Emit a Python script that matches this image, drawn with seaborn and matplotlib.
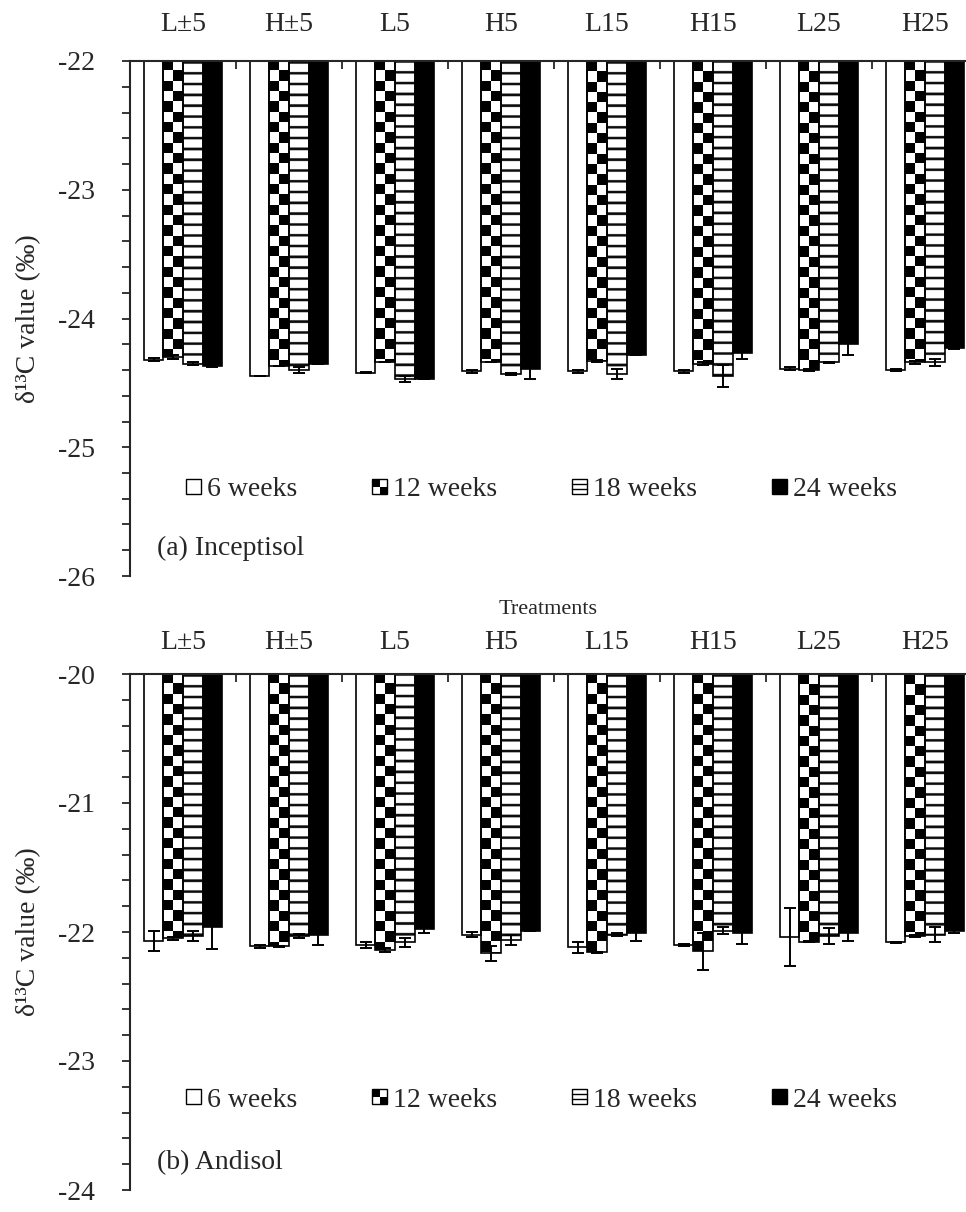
import numpy as np
import pandas as pd
import matplotlib
matplotlib.use("Agg")
import matplotlib.pyplot as plt
import seaborn as sns
from matplotlib.patches import Rectangle
from matplotlib.lines import Line2D
from matplotlib.container import BarContainer
from matplotlib.ticker import MultipleLocator, FixedLocator

# ---------------------------------------------------------------- data
treatments = ["L±5", "H±5", "L5", "H5", "L15", "H15", "L25", "H25"]
periods = ["6 weeks", "12 weeks", "18 weeks", "24 weeks"]

# Inceptisol: mean δ13C (‰) and standard error per sampling time
incep_6 = [-24.32, -24.45, -24.42, -24.41, -24.41, -24.41, -24.39, -24.40]
incep_12 = [-24.30, -24.37, -24.34, -24.34, -24.33, -24.35, -24.40, -24.34]
incep_18 = [-24.35, -24.40, -24.47, -24.43, -24.43, -24.45, -24.34, -24.34]
incep_24 = [-24.37, -24.35, -24.47, -24.39, -24.28, -24.27, -24.20, -24.23]
incep_6_se = [0.010, 0.000, 0.005, 0.010, 0.010, 0.010, 0.010, 0.010]
incep_12_se = [0.015, 0.000, 0.000, 0.000, 0.010, 0.010, 0.010, 0.010]
incep_18_se = [0.015, 0.025, 0.020, 0.010, 0.040, 0.085, 0.005, 0.026]
incep_24_se = [0.010, 0.000, 0.000, 0.080, 0.000, 0.045, 0.083, 0.005]

# Andisol: mean δ13C (‰) and standard error per sampling time
andi_6 = [-22.07, -22.11, -22.10, -22.02, -22.12, -22.10, -22.04, -22.08]
andi_12 = [-22.05, -22.11, -22.14, -22.165, -22.157, -22.15, -22.075, -22.03]
andi_18 = [-22.03, -22.03, -22.08, -22.06, -22.02, -21.99, -22.03, -22.02]
andi_24 = [-21.965, -22.02, -21.98, -21.99, -22.005, -22.005, -22.01, -21.99]
andi_6_se = [0.080, 0.013, 0.023, 0.020, 0.044, 0.005, 0.225, 0.003]
andi_12_se = [0.015, 0.005, 0.015, 0.060, 0.005, 0.146, 0.005, 0.010]
andi_18_se = [0.040, 0.013, 0.035, 0.037, 0.010, 0.026, 0.060, 0.060]
andi_24_se = [0.166, 0.080, 0.030, 0.005, 0.062, 0.087, 0.060, 0.020]

incep_limits = (-26, -22)
andi_limits = (-24, -20)

# ---------------------------------------------------------------- style
sns.set_style("white")
plt.rcParams.update({
    "font.family": ["Liberation Serif", "DejaVu Serif"],
    "font.size": 20,
    "axes.unicode_minus": False,
    "axes.linewidth": 1.5,
})

bar_colors = ["white", "white", "white", "black"]
CELL_PX = 10.3      # checker cell height in pixels
STRIPE_PX = 10.8    # stripe period in pixels
STRIPE_LINE = 2.6   # stripe line thickness in pixels


def long_table(means, ses):
    rows = []
    for period, vals, errs in zip(periods, means, ses):
        for t, v, e in zip(treatments, vals, errs):
            rows.append({"treatment": t, "period": period, "value": v, "se": e})
    return pd.DataFrame(rows)


def texture_bars(ax, bar_groups):
    ybot, ytop = ax.get_ylim()
    ppu = ax.bbox.height / (ytop - ybot)
    # checkerboard fill for the second sampling time
    cell = CELL_PX / ppu
    for bar in bar_groups[1]:
        x0, w = bar.get_x(), bar.get_width()
        val = bar.get_y() + bar.get_height()
        n = int(np.ceil((ytop - val) / cell)) + 1
        arr = np.add.outer(np.arange(n), np.arange(2)) % 2
        im = ax.imshow(arr, cmap="gray", vmin=0, vmax=1, origin="upper",
                       extent=(x0, x0 + w, ytop - n * cell, ytop),
                       aspect="auto", interpolation="nearest", zorder=0.9)
        im.set_clip_path(bar)
        bar.set_facecolor("none")
        bar.set_zorder(1.5)
    # horizontal stripes for the third sampling time
    sub = 4
    for bar in bar_groups[2]:
        x0, w = bar.get_x(), bar.get_width()
        val = bar.get_y() + bar.get_height()
        n = int(np.ceil((ytop - val) * ppu * sub)) + sub
        rows = (np.arange(n) / sub) % STRIPE_PX
        arr = np.where(rows < STRIPE_LINE, 0.05, 1.0)[:, None]
        im = ax.imshow(arr, cmap="gray", vmin=0, vmax=1, origin="upper",
                       extent=(x0, x0 + w, ytop - n / sub / ppu, ytop),
                       aspect="auto", interpolation="antialiased", zorder=0.9)
        im.set_clip_path(bar)
        bar.set_facecolor("none")
        bar.set_zorder(1.5)
    ax.set_ylim(ybot, ytop)


class SwatchHandler:
    def __init__(self, style):
        self.style = style

    def legend_artist(self, legend, orig_handle, fontsize, handlebox):
        x0, y0 = -handlebox.xdescent, -handlebox.ydescent
        s = handlebox.height
        w = s
        tr = handlebox.get_transform()
        face = "black" if self.style == "solid" else "white"
        base = Rectangle((x0, y0), w, s, facecolor=face, edgecolor="black",
                         lw=1.0, transform=tr)
        handlebox.add_artist(base)
        if self.style == "checker":
            for i, j in [(0, 1), (1, 0)]:
                handlebox.add_artist(Rectangle((x0 + i * w / 2, y0 + j * s / 2), w / 2, s / 2,
                                               facecolor="black", edgecolor="none", transform=tr))
        elif self.style == "stripes":
            for k in (1, 2):
                handlebox.add_artist(Line2D([x0, x0 + w], [y0 + k * s / 3] * 2,
                                            color="black", lw=1.0, transform=tr))
        return base


def draw_panel(ax, means, ses, limits, tag, tick_pad, legend_y):
    df = long_table(means, ses)
    sns.barplot(data=df, x="treatment", y="value", hue="period",
                order=treatments, hue_order=periods, palette=bar_colors,
                saturation=1, edgecolor="black", linewidth=1.2, width=0.74,
                gap=0, errorbar=None, legend=False, ax=ax)
    ax.set_ylim(*limits)
    ax.set_xlim(-0.5, len(treatments) - 0.5)
    bar_groups = [c for c in ax.containers if isinstance(c, BarContainer)]
    texture_bars(ax, bar_groups)

    # standard-error whiskers
    for k, cont in enumerate(bar_groups):
        xs = [b.get_x() + b.get_width() / 2 for b in cont]
        ax.errorbar(xs, means[k], yerr=ses[k], fmt="none", ecolor="black",
                    elinewidth=1.4, capsize=4.5, capthick=1.4, zorder=3)

    # axes: categories along the top, bars hanging from it
    for side in ("bottom", "right"):
        ax.spines[side].set_visible(False)
    ax.xaxis.tick_top()
    ax.set_xticks(range(len(treatments)))
    ax.set_xticklabels(treatments)
    ax.xaxis.set_minor_locator(FixedLocator(np.arange(0.5, len(treatments) - 0.5, 1)))
    ax.tick_params(axis="x", which="major", length=0, pad=tick_pad, labelsize=20)
    ax.tick_params(axis="x", which="minor", direction="in", length=6, width=1.3,
                   top=True, bottom=False)
    ax.yaxis.set_major_locator(MultipleLocator(1))
    ax.yaxis.set_minor_locator(MultipleLocator(0.2))
    ax.tick_params(axis="y", which="both", direction="out", length=6, width=1.3,
                   left=True, right=False)
    ax.tick_params(axis="y", which="major", pad=19, labelsize=20)
    ax.set_ylabel("δ¹³C value (‰)", fontsize=20)
    ax.yaxis.set_label_coords(-0.105, 0.5)
    ax.set_xlabel("")

    handles = [Rectangle((0, 0), 1, 1) for _ in periods]
    styles = ["plain", "checker", "stripes", "solid"]
    hmap = {h: SwatchHandler(s) for h, s in zip(handles, styles)}
    ax.legend(handles, periods, handler_map=hmap, loc="center left",
              bbox_to_anchor=(0.066, legend_y), ncol=4, frameon=False,
              handlelength=0.45, handleheight=0.45, handletextpad=0.3,
              columnspacing=2.7, borderpad=0, borderaxespad=0, fontsize=20)
    ax.text(0.032, 0.054, tag, transform=ax.transAxes, ha="left", va="center",
            fontsize=20)


fig = plt.figure(figsize=(9.66, 12.12), dpi=100)
W, H = 966, 1212
ax_top = fig.add_axes([130 / W, (H - 576) / H, 848 / W, 515 / H])
ax_bot = fig.add_axes([130 / W, (H - 1190) / H, 848 / W, 516 / H])

draw_panel(ax_top, [incep_6, incep_12, incep_18, incep_24],
           [incep_6_se, incep_12_se, incep_18_se, incep_24_se],
           incep_limits, "(a) Inceptisol", tick_pad=17, legend_y=0.167)
draw_panel(ax_bot, [andi_6, andi_12, andi_18, andi_24],
           [andi_6_se, andi_12_se, andi_18_se, andi_24_se],
           andi_limits, "(b) Andisol", tick_pad=14, legend_y=0.174)

ax_bot.xaxis.set_label_position("top")
ax_bot.set_xlabel("Treatments", fontsize=16)
ax_bot.xaxis.set_label_coords(0.493, 1.116)

fig.savefig("out.png", dpi=100)
